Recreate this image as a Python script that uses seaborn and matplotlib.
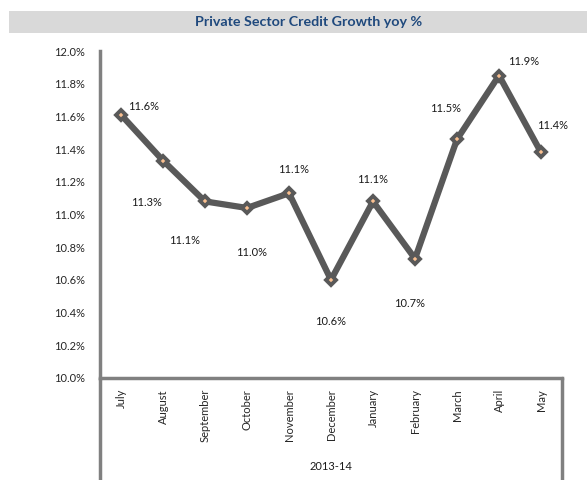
import matplotlib
matplotlib.use("Agg")
import matplotlib.pyplot as plt
import seaborn as sns
import pandas as pd
from matplotlib.patches import Rectangle
from matplotlib.lines import Line2D
from matplotlib.ticker import FuncFormatter, MultipleLocator

months = ["July", "August", "September", "October", "November", "December",
          "January", "February", "March", "April", "May"]
growth = [11.61, 11.33, 11.08, 11.04, 11.13, 10.60, 11.08, 10.73, 11.46, 11.85, 11.38]
labels = ["11.6%", "11.3%", "11.1%", "11.0%", "11.1%", "10.6%", "11.1%", "10.7%",
          "11.5%", "11.9%", "11.4%"]
title = "Private Sector Credit Growth yoy %"
period = "2013-14"

# label offsets in points (style only)
offsets = [(16, 6), (-12, -30), (-15, -28), (3, -32), (3, 17), (0, -30),
           (0, 16), (-4, -32), (-8, 22), (18, 10), (8, 19)]

sns.set_theme(style="white")
plt.rcParams['font.family'] = ['Lato', 'DejaVu Sans']

df = pd.DataFrame({"month": months, "growth": growth})
df["pos"] = range(len(months))

fig = plt.figure(figsize=(5.87, 4.8), dpi=100)
W, H = 587, 480
ax = fig.add_axes([100 / W, 1 - 378 / H, 462 / W, (378 - 51) / H])

sns.lineplot(data=df, x="pos", y="growth", ax=ax, color="#595959", linewidth=4.5,
             marker="D", markersize=5, markerfacecolor="#FAC090",
             markeredgecolor="#595959", markeredgewidth=2.8)

for i, (v, lab) in enumerate(zip(growth, labels)):
    ax.annotate(lab, (i, v), xytext=offsets[i], textcoords="offset points",
                ha="center", va="center", fontsize=8, color="#1a1a1a")

ax.set_xlim(-0.5, len(months) - 0.5)
ax.set_ylim(10.0, 12.0)
ax.yaxis.set_major_locator(MultipleLocator(0.2))
ax.yaxis.set_major_formatter(FuncFormatter(lambda v, p: f"{v:.1f}%"))
ax.set_xticks(range(len(months)))
ax.set_xticklabels(months, rotation=90, fontsize=8, va="top")
ax.tick_params(axis="y", labelsize=8, length=0, pad=11)
ax.tick_params(axis="x", length=0, pad=8)
ax.set_xlabel("")
ax.set_ylabel("")
for s in ["top", "right"]:
    ax.spines[s].set_visible(False)
for s in ["left", "bottom"]:
    ax.spines[s].set_color("#808080")
    ax.spines[s].set_linewidth(2.5)

# category box lines below axis
fig.add_artist(Line2D([100 / W, 100 / W], [0, 1 - 378 / H], transform=fig.transFigure,
                      color="#808080", linewidth=2.5))
fig.add_artist(Line2D([562 / W, 562 / W], [0, 1 - 378 / H], transform=fig.transFigure,
                      color="#808080", linewidth=2.5))
fig.text(331 / W, 1 - 467 / H, period, ha="center", va="center", fontsize=8,
         color="#1a1a1a")

# title band
fig.add_artist(Rectangle((9 / W, 1 - 33 / H), (W - 9) / W, 22 / H,
                         transform=fig.transFigure, facecolor="#D9D9D9",
                         edgecolor="none"))
fig.text(309 / W, 1 - 22 / H, title, ha="center", va="center", fontsize=10.3,
         fontweight="bold", color="#1F497D")

fig.savefig("out.png", dpi=100)
